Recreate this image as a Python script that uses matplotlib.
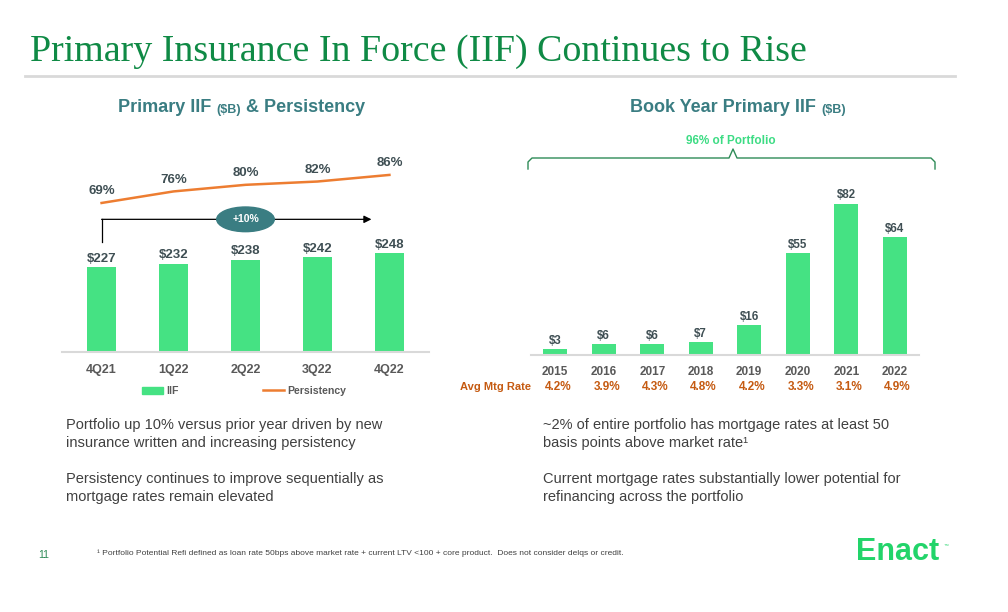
import numpy as np
import matplotlib
matplotlib.use("Agg")
import matplotlib.pyplot as plt
from matplotlib.patches import Ellipse, Patch
from matplotlib.lines import Line2D
from matplotlib.text import Annotation

# data
quarters = ["4Q21", "1Q22", "2Q22", "3Q22", "4Q22"]
iif = [227, 232, 238, 242, 248]
persistency = [69, 76, 80, 82, 86]

years = ["2015", "2016", "2017", "2018", "2019", "2020", "2021", "2022"]
book_iif = [3, 6, 6, 7, 16, 55, 82, 64]
mtg_rate = [4.2, 3.9, 4.3, 4.8, 4.2, 3.3, 3.1, 4.9]

GREEN = "#45e283"
ORANGE = "#ed7d31"
TEAL = "#3a7d82"
DARK = "#3f4f54"
GRAY = "#595959"
RATE = "#c55a11"

plt.rcParams["font.family"] = ["Liberation Sans", "DejaVu Sans"]

W, H = 1008, 612
fig = plt.figure(figsize=(W / 100, H / 100), dpi=100)


def rect(x0, y0, x1, y1):
    # pixel box (top-left origin) -> figure fraction
    return [x0 / W, 1 - y1 / H, (x1 - x0) / W, (y1 - y0) / H]


def fx(x):
    return x / W


def fy(y):
    return 1 - y / H


def after(prev, s, size):
    # put a text right after another one
    a = Annotation(s, xy=(1, 0), xycoords=prev, fontsize=size, color=TEAL,
                   fontweight="bold", va="bottom", annotation_clip=False)
    fig.add_artist(a)
    return a


# header
fig.text(fx(30), fy(52), "Primary Insurance In Force (IIF) Continues to Rise",
         family="Liberation Serif", fontsize=27.3, color="#0f8a45", va="center")
fig.add_artist(Line2D([fx(25), fx(955)], [fy(76), fy(76)], color="#d9d9d9", lw=2))

# subtitles
t = fig.text(fx(118), fy(112), "Primary IIF ", fontsize=13, color=TEAL,
             fontweight="bold", va="baseline")
t = after(t, "($B)", 9)
t = after(t, " & Persistency", 13)

t = fig.text(fx(630), fy(112), "Book Year Primary IIF ", fontsize=13, color=TEAL,
             fontweight="bold", va="baseline")
after(t, "($B)", 9)

# ---------- left chart ----------
ax = fig.add_axes(rect(62, 150, 429, 352))
x = np.arange(len(quarters))
ax.bar(x, iif, width=0.4, color=GREEN)
ax.set_xlim(-0.55, 4.55)
ax.set_ylim(100, 403)
for xi, v in zip(x, iif):
    ax.annotate(f"${v}", (xi, v), xytext=(0, 2), textcoords="offset points",
                ha="center", va="bottom", fontsize=9.5, fontweight="bold", color=DARK)
ax.set_xticks(x, quarters)
ax.tick_params(axis="x", length=0, pad=9, labelsize=9, labelcolor=GRAY)
for lab in ax.get_xticklabels():
    lab.set_fontweight("bold")
ax.set_yticks([])
for s in ["top", "right", "left"]:
    ax.spines[s].set_visible(False)
ax.spines["bottom"].set_color("#d9d9d9")
ax.spines["bottom"].set_linewidth(1.5)
ax.patch.set_alpha(0)

ax2 = ax.twinx()
ax2.plot(x, persistency, color=ORANGE, lw=1.8)
ax2.set_ylim(-21.3, 101.1)
for xi, v in zip(x, persistency):
    ax2.annotate(f"{v}%", (xi, v), xytext=(0, 4), textcoords="offset points",
                 ha="center", va="bottom", fontsize=9.5, fontweight="bold", color=DARK)
ax2.axis("off")

# growth arrow
ax.plot([0, 0], [265, 299], color="black", lw=0.9)
ax.annotate("", xy=(3.75, 299), xytext=(0, 299),
            arrowprops=dict(arrowstyle="-|>", color="black", lw=0.9,
                            mutation_scale=11, shrinkA=0, shrinkB=0))
ax.add_patch(Ellipse((2, 299), 0.8, 37, color=TEAL, zorder=5))
ax.text(2, 299, "+10%", ha="center", va="center", color="white",
        fontsize=7.5, fontweight="bold", zorder=6)

leg = fig.legend(handles=[Patch(color=GREEN), Line2D([], [], color=ORANGE, lw=1.8)],
                 labels=["IIF", "Persistency"], loc="center",
                 bbox_to_anchor=(fx(244), fy(391)), ncol=2, frameon=False,
                 handlelength=2.0, handleheight=0.6, columnspacing=8.0,
                 handletextpad=0.3, prop=dict(size=7.6, weight="bold"))
for txt in leg.get_texts():
    txt.set_color(GRAY)

# ---------- right chart ----------
bx = fig.add_axes(rect(531, 150, 919, 355))
xb = np.arange(len(years))
bx.bar(xb, book_iif, width=0.5, color=GREEN)
bx.set_xlim(-0.5, 7.5)
bx.set_ylim(0, 111)
for xi, v in zip(xb, book_iif):
    bx.annotate(f"${v}", (xi, v), xytext=(0, 1.5), textcoords="offset points",
                ha="center", va="bottom", fontsize=8.3, fontweight="bold", color=DARK)
bx.set_xticks(xb, years)
bx.tick_params(axis="x", length=0, pad=8, labelsize=8.5, labelcolor=GRAY)
for lab in bx.get_xticklabels():
    lab.set_fontweight("bold")
bx.set_yticks([])
for s in ["top", "right", "left"]:
    bx.spines[s].set_visible(False)
bx.spines["bottom"].set_color("#d9d9d9")
bx.spines["bottom"].set_linewidth(1.5)
bx.patch.set_alpha(0)

trans = matplotlib.transforms.blended_transform_factory(bx.transData, fig.transFigure)
for xi, r in zip(xb, mtg_rate):
    fig.text(xi + 0.06, fy(387), f"{r:.1f}%", transform=trans, ha="center", va="center",
             fontsize=8.5, fontweight="bold", color=RATE)
fig.text(fx(531), fy(387), "Avg Mtg Rate", ha="right", va="center",
         fontsize=8, fontweight="bold", color=RATE)

# brace over the portfolio
bxs = [528, 528, 532, 729, 733, 737, 931, 935, 935]
bys = [169, 162, 158, 158, 149, 158, 158, 162, 169]
fig.add_artist(Line2D([fx(v) for v in bxs], [fy(v) for v in bys],
                      color="#2e8b57", lw=1.0))
fig.text(fx(731), fy(141), "96% of Portfolio", ha="center", va="center",
         fontsize=8.5, fontweight="bold", color="#3ddc84")

# ---------- commentary ----------
body = dict(fontsize=10.5, color="#404040", va="center", linespacing=1.45)
fig.text(fx(66), fy(434), "Portfolio up 10% versus prior year driven by new\n"
         "insurance written and increasing persistency", **body)
fig.text(fx(66), fy(488), "Persistency continues to improve sequentially as\n"
         "mortgage rates remain elevated", **body)
fig.text(fx(543), fy(434), "~2% of entire portfolio has mortgage rates at least 50\n"
         "basis points above market rate\u00b9", **body)
fig.text(fx(543), fy(488), "Current mortgage rates substantially lower potential for\n"
         "refinancing across the portfolio", **body)

# footer
fig.text(fx(38), fy(555), "11", fontsize=7.5, color="#2e8b57", va="center")
fig.text(fx(97), fy(553), "\u00b9 Portfolio Potential Refi defined as loan rate 50bps above "
         "market rate + current LTV <100 + core product.  Does not consider delqs or credit.",
         fontsize=6.0, color="#404040", va="center")
fig.text(fx(856), fy(552), "Enact", fontsize=22, fontweight="bold", color="#22d46a",
         va="center")
fig.text(fx(944), fy(545), "\u2122", fontsize=3.5, color="#22d46a", va="center")

fig.savefig("out.png", dpi=100)
